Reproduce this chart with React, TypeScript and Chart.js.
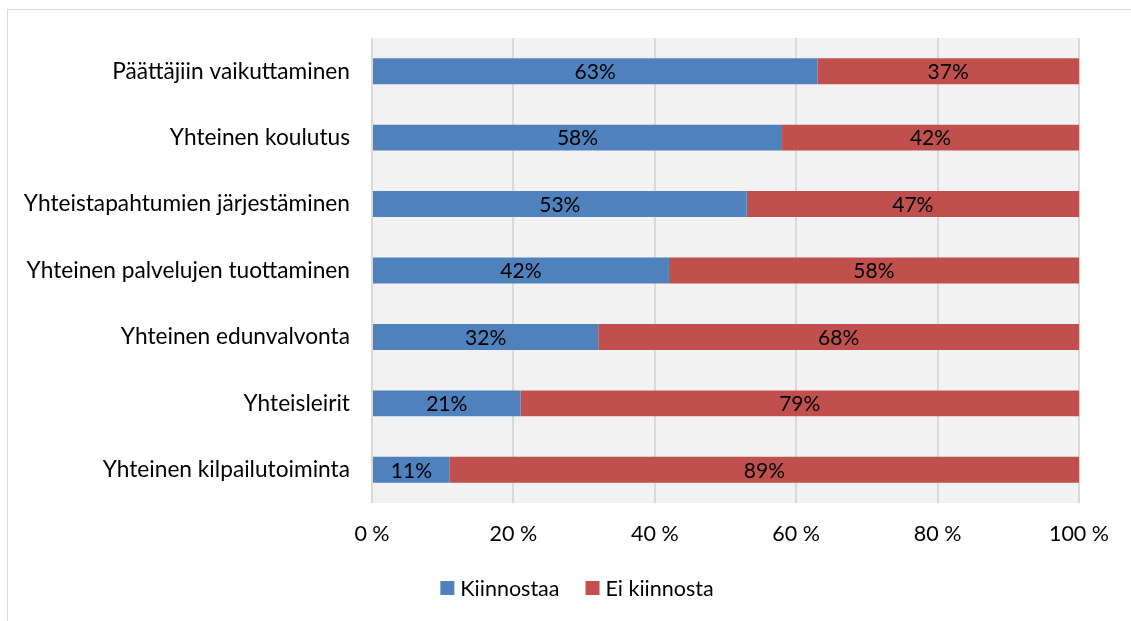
import React, { useEffect, useRef } from "react";
import { Chart, registerables } from "chart.js";

Chart.register(...registerables);

const categories = [
  "Päättäjiin vaikuttaminen",
  "Yhteinen koulutus",
  "Yhteistapahtumien järjestäminen",
  "Yhteinen palvelujen tuottaminen",
  "Yhteinen edunvalvonta",
  "Yhteisleirit",
  "Yhteinen kilpailutoiminta",
];
const kiinnostaa = [63, 58, 53, 42, 32, 21, 11];
const eiKiinnosta = [37, 42, 47, 58, 68, 79, 89];
const seriesNames = ["Kiinnostaa", "Ei kiinnosta"];
const seriesColors = ["#4f81bd", "#c0504d"];
const xTicks = [0, 20, 40, 60, 80, 100];

const FONT = "Lato, 'Open Sans', sans-serif";

const W = 1131;
const H = 621;

const plotBg = {
  id: "plotBg",
  beforeDraw(chart: any) {
    const { ctx, chartArea } = chart;
    ctx.save();
    ctx.fillStyle = "#f2f2f2";
    ctx.fillRect(chartArea.left, chartArea.top, chartArea.right - chartArea.left, chartArea.bottom - chartArea.top);
    ctx.restore();
  },
};

const valueLabels = {
  id: "valueLabels",
  afterDatasetsDraw(chart: any) {
    const { ctx } = chart;
    ctx.save();
    ctx.font = `21px ${FONT}`;
    ctx.fillStyle = "#000";
    ctx.textAlign = "center";
    ctx.textBaseline = "middle";
    chart.data.datasets.forEach((ds: any, i: number) => {
      const meta = chart.getDatasetMeta(i);
      meta.data.forEach((bar: any, j: number) => {
        const cx = (bar.x + bar.base) / 2;
        ctx.fillText(ds.data[j] + "%", cx, bar.y + 1);
      });
    });
    ctx.restore();
  },
};

const customLegend = {
  id: "customLegend",
  afterDraw(chart: any) {
    const { ctx } = chart;
    ctx.save();
    ctx.font = `21.5px ${FONT}`;
    ctx.textBaseline = "middle";
    ctx.textAlign = "left";
    const box = 14;
    const gap = 6;
    const itemGap = 26;
    const widths = seriesNames.map((n) => box + gap + ctx.measureText(n).width);
    const total = widths.reduce((a, b) => a + b, 0) + itemGap * (seriesNames.length - 1);
    const centerX = 577;
    const cy = 588;
    let x = centerX - total / 2;
    seriesNames.forEach((n, i) => {
      ctx.fillStyle = seriesColors[i];
      ctx.fillRect(x, cy - box / 2, box, box);
      ctx.fillStyle = "#000";
      ctx.fillText(n, x + box + gap, cy + 1);
      x += widths[i] + itemGap;
    });
    ctx.restore();
  },
};

export default function App() {
  const ref = useRef<HTMLCanvasElement>(null);
  useEffect(() => {
    const chart = new Chart(ref.current!, {
      type: "bar",
      data: {
        labels: categories,
        datasets: [
          { label: seriesNames[0], data: kiinnostaa, backgroundColor: seriesColors[0], barPercentage: 0.39, categoryPercentage: 1 },
          { label: seriesNames[1], data: eiKiinnosta, backgroundColor: seriesColors[1], barPercentage: 0.39, categoryPercentage: 1 },
        ],
      },
      options: {
        indexAxis: "y",
        animation: false,
        responsive: false,
        layout: { padding: { top: 38, right: W - 1079, bottom: H - 503 - 50, left: 0 } },
        scales: {
          x: {
            stacked: true,
            min: 0,
            max: 100,
            afterBuildTicks(scale: any) {
              scale.ticks = xTicks.map((v) => ({ value: v }));
            },
            afterFit(scale: any) {
              scale.height = 50;
              scale.paddingLeft = 0;
              scale.paddingRight = 0;
            },
            ticks: {
              color: "#000",
              font: { family: FONT, size: 21.5 },
              padding: 18,
              callback: (v: any) => v + " %",
            },
            grid: { color: "#d9d9d9", lineWidth: 2, drawTicks: false },
            border: { display: false },
          },
          y: {
            stacked: true,
            afterFit(scale: any) {
              scale.width = 372;
              scale.paddingTop = 0;
              scale.paddingBottom = 0;
            },
            ticks: {
              color: "#000",
              font: { family: FONT, size: 22.7 },
              padding: 22,
            },
            grid: { display: false, drawTicks: false },
            border: { display: false },
          },
        },
        plugins: {
          legend: { display: false },
          tooltip: { enabled: false },
        },
      },
      plugins: [plotBg, valueLabels, customLegend],
    });
    return () => chart.destroy();
  }, []);
  return (
    <div style={{ position: "fixed", left: 0, top: 0, width: W, height: H, overflow: "hidden", background: "#fff" }}>
      <div
        style={{
          position: "absolute",
          left: 7,
          top: 9,
          width: W,
          height: H,
          borderTop: "1px solid #d9d9d9",
          borderLeft: "1px solid #d9d9d9",
        }}
      />
      <canvas ref={ref} width={W} height={H} style={{ position: "absolute", left: 0, top: 0 }} />
    </div>
  );
}
